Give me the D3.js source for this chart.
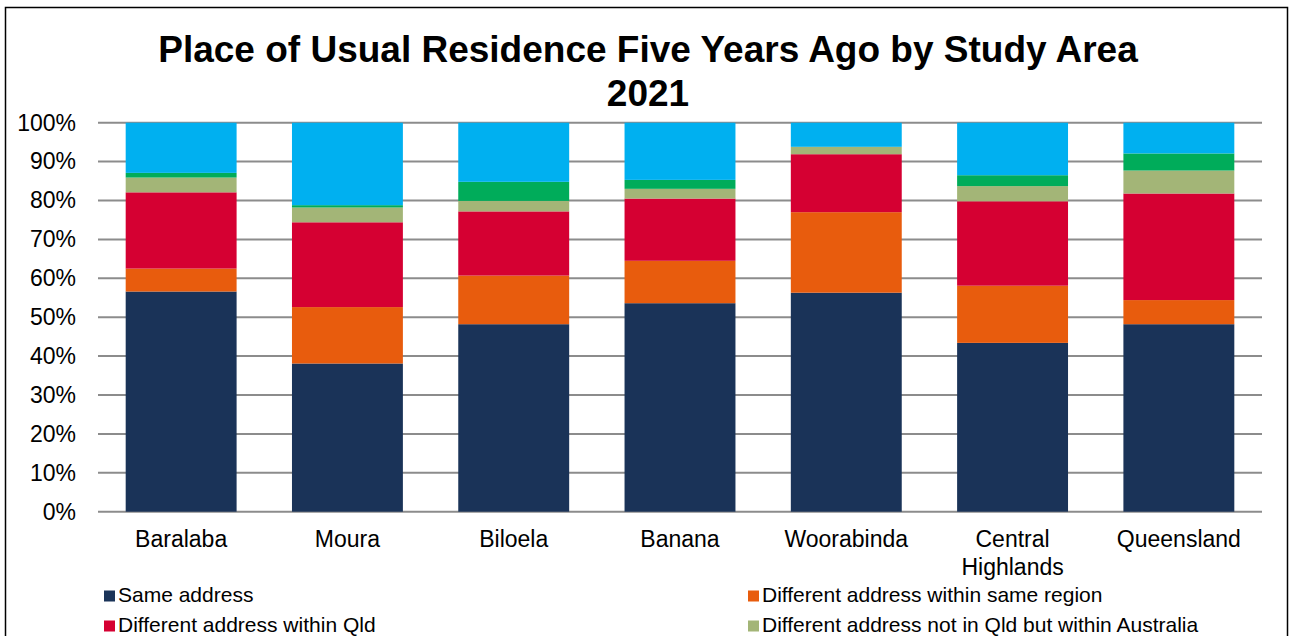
<!DOCTYPE html>
<html>
<head>
<meta charset="utf-8">
<script src="https://cdn.jsdelivr.net/npm/d3@7"></script>
<style>
  html, body { margin: 0; padding: 0; background: #fff; overflow: hidden; }
  svg { display: block; font-family: "Liberation Sans", Arial, sans-serif; }
</style>
</head>
<body>
<svg id="chart" width="1292" height="636"></svg>
<script>
// Study areas along the x axis
const categories = ["Baralaba", "Moura", "Biloela", "Banana", "Woorabinda", "Central Highlands", "Queensland"];

// Share of residents (%) by place of usual residence five years ago
const sameAddress     = [56.6, 38.1, 48.2, 53.6, 56.3, 43.4, 48.2];
const sameRegion      = [5.9, 14.5, 12.5, 10.9, 20.7, 14.7, 6.2];
const withinQld       = [19.6, 21.8, 16.5, 16.0, 14.9, 21.7, 27.4];
const withinAustralia = [3.8, 3.8, 2.7, 2.5, 1.9, 3.9, 5.9];
const overseas        = [1.2, 0.6, 4.9, 2.3, 0.0, 2.8, 4.4];
const notStated       = [12.9, 21.2, 15.2, 14.7, 6.2, 13.5, 7.9];

const seriesNames = [
  "Same address",
  "Different address within same region",
  "Different address within Qld",
  "Different address not in Qld but within Australia",
  "Different address overseas",
  "Not stated"
];
const seriesValues = [sameAddress, sameRegion, withinQld, withinAustralia, overseas, notStated];
const seriesColors = ["#1a3358", "#e85c0d", "#d50032", "#a3b577", "#00ac5a", "#00b0f0"];

const yTicks = [0, 10, 20, 30, 40, 50, 60, 70, 80, 90, 100];

const svg = d3.select("#chart");

// Chart frame (runs past the bottom edge of the page)
svg.append("rect")
  .attr("x", 5.5).attr("y", 7.5)
  .attr("width", 1282).attr("height", 640)
  .attr("fill", "#fff").attr("stroke", "#000").attr("stroke-width", 1.5);

// Title
const title = svg.append("text")
  .attr("text-anchor", "middle")
  .attr("font-weight", "bold")
  .attr("font-size", 37)
  .attr("fill", "#000");
title.append("tspan").attr("x", 648).attr("y", 62).text("Place of Usual Residence Five Years Ago by Study Area");
title.append("tspan").attr("x", 648).attr("y", 106).text("2021");

const plot = { left: 98, right: 1262, top: 122.7, bottom: 511.7 };

const x = d3.scaleBand()
  .domain(categories)
  .range([plot.left, plot.right])
  .paddingInner(0.333)
  .paddingOuter(0.1665);

const y = d3.scaleLinear()
  .domain([0, 100])
  .range([plot.bottom, plot.top]);

// Gridlines
svg.append("g")
  .selectAll("line")
  .data(yTicks)
  .join("line")
  .attr("x1", plot.left).attr("x2", plot.right)
  .attr("y1", d => y(d)).attr("y2", d => y(d))
  .attr("stroke", "#8c8c8c")
  .attr("stroke-width", 2);

// Y axis labels
const yAxis = d3.axisLeft(y)
  .tickValues(yTicks)
  .tickFormat(d => d + "%")
  .tickSize(0)
  .tickPadding(0);
const yg = svg.append("g")
  .attr("transform", `translate(${plot.left - 22},0)`)
  .call(yAxis);
yg.select(".domain").remove();
yg.selectAll("text")
  .attr("font-size", 23)
  .attr("font-family", "'Liberation Sans', Arial, sans-serif")
  .attr("fill", "#000");

// Stacked data
const rows = categories.map((c, i) => {
  const r = { category: c };
  seriesNames.forEach((s, j) => { r[s] = seriesValues[j][i]; });
  return r;
});
const stacked = d3.stack().keys(seriesNames)(rows);

svg.append("g")
  .selectAll("g")
  .data(stacked)
  .join("g")
  .attr("fill", (d, i) => seriesColors[i])
  .selectAll("rect")
  .data(d => d)
  .join("rect")
  .attr("x", d => x(d.data.category))
  .attr("width", x.bandwidth())
  .attr("y", d => y(d[1]))
  .attr("height", d => Math.max(0, y(d[0]) - y(d[1])));

// Category labels (wrapped onto separate lines at spaces)
const xAxis = d3.axisBottom(x).tickSize(0).tickPadding(0);
const xg = svg.append("g")
  .attr("transform", `translate(0,${plot.bottom})`)
  .call(xAxis);
xg.select(".domain").remove();
xg.selectAll("text").remove();
xg.selectAll(".tick").each(function(d) {
  const words = d.split(" ");
  const t = d3.select(this).append("text")
    .attr("text-anchor", "middle")
    .attr("font-size", 23)
    .attr("fill", "#000");
  words.forEach((w, k) => {
    t.append("tspan").attr("x", 0).attr("y", 35 + k * 28).text(w);
  });
});

// Legend: two columns; only the first two rows fit inside the page
const legendCols = [104, 748];
const legendRows = [601.5, 631.5];
const legend = svg.append("g");
seriesNames.slice(0, 4).forEach((name, i) => {
  const cx = legendCols[i % 2];
  const cy = legendRows[Math.floor(i / 2)];
  const g = legend.append("g");
  g.append("rect")
    .attr("x", cx).attr("y", cy - 11)
    .attr("width", 11).attr("height", 11)
    .attr("fill", seriesColors[i]);
  g.append("text")
    .attr("x", cx + 14).attr("y", cy)
    .attr("font-size", 21)
    .attr("fill", "#000")
    .text(name);
});
</script>
</body>
</html>
